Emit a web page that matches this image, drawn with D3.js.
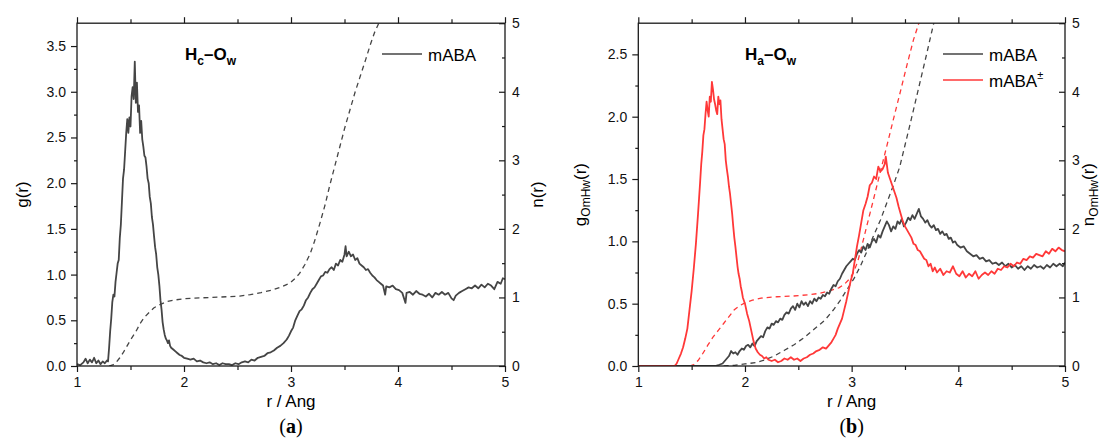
<!DOCTYPE html>
<html>
<head>
<meta charset="utf-8">
<script src="https://cdn.jsdelivr.net/npm/d3@7"></script>
<style>
  body { margin: 0; background: #fff; }
  svg { display: block; }
</style>
</head>
<body>
<svg width="1105" height="440"></svg>
<script>
// tick values
var xTicks = [1, 2, 3, 4, 5];
var xMinor = [1.5, 2.5, 3.5, 4.5];
var nTicks = [0, 1, 2, 3, 4, 5];
var nMinor = [0.5, 1.5, 2.5, 3.5, 4.5];
var gTicksA = [0, 0.5, 1, 1.5, 2, 2.5, 3, 3.5];
var gMinorA = [0.25, 0.75, 1.25, 1.75, 2.25, 2.75, 3.25];
var gTicksB = [0, 0.5, 1, 1.5, 2, 2.5];
var gMinorB = [0.25, 0.75, 1.25, 1.75, 2.25];

// (a) Hc-Ow, mABA : g(r)
var gHcOw = [[1.00,0.02],[1.03,0.01],[1.06,0.04],[1.08,0.08],[1.10,0.03],[1.12,0.07],[1.14,0.04],[1.16,0.09],[1.18,0.03],[1.20,0.06],[1.22,0.02],[1.24,0.05],[1.26,0.03],[1.28,0.06],[1.29,0.05],[1.30,0.20],[1.31,0.38],[1.32,0.52],[1.33,0.70],[1.34,0.78],[1.35,0.76],[1.36,0.92],[1.37,1.02],[1.38,1.12],[1.39,1.16],[1.40,1.40],[1.41,1.55],[1.42,1.80],[1.43,2.05],[1.44,2.15],[1.45,2.35],[1.46,2.55],[1.47,2.70],[1.48,2.55],[1.49,2.72],[1.50,2.62],[1.51,2.95],[1.52,3.05],[1.53,2.92],[1.54,3.33],[1.55,2.88],[1.56,3.10],[1.57,2.78],[1.58,2.85],[1.59,2.55],[1.60,2.68],[1.61,2.48],[1.62,2.40],[1.63,2.30],[1.64,2.28],[1.65,2.18],[1.66,2.05],[1.67,2.00],[1.68,1.85],[1.69,1.78],[1.70,1.63],[1.71,1.55],[1.72,1.42],[1.73,1.30],[1.74,1.22],[1.75,1.08],[1.76,1.00],[1.77,0.88],[1.78,0.72],[1.79,0.62],[1.80,0.48],[1.81,0.40],[1.82,0.34],[1.83,0.30],[1.84,0.28],[1.85,0.25],[1.86,0.28],[1.87,0.22],[1.88,0.20],[1.90,0.18],[1.92,0.16],[1.94,0.14],[1.96,0.12],[1.98,0.11],[2.00,0.09],[2.03,0.08],[2.06,0.07],[2.09,0.08],[2.12,0.05],[2.15,0.06],[2.18,0.04],[2.21,0.03],[2.24,0.04],[2.27,0.02],[2.30,0.03],[2.33,0.01],[2.36,0.03],[2.39,0.02],[2.42,0.02],[2.45,0.01],[2.48,0.03],[2.51,0.02],[2.54,0.04],[2.57,0.05],[2.60,0.04],[2.63,0.07],[2.66,0.06],[2.69,0.09],[2.72,0.10],[2.75,0.11],[2.78,0.14],[2.81,0.15],[2.84,0.17],[2.87,0.20],[2.90,0.22],[2.93,0.25],[2.96,0.29],[2.98,0.33],[3.00,0.38],[3.02,0.42],[3.04,0.50],[3.06,0.55],[3.08,0.60],[3.10,0.62],[3.12,0.66],[3.14,0.72],[3.16,0.75],[3.18,0.80],[3.20,0.84],[3.22,0.86],[3.24,0.90],[3.26,0.94],[3.28,0.98],[3.30,0.99],[3.32,1.03],[3.34,1.02],[3.36,1.06],[3.38,1.08],[3.40,1.05],[3.42,1.12],[3.44,1.10],[3.46,1.16],[3.48,1.14],[3.50,1.22],[3.51,1.31],[3.52,1.20],[3.54,1.25],[3.56,1.20],[3.58,1.22],[3.60,1.16],[3.62,1.18],[3.64,1.12],[3.66,1.10],[3.68,1.08],[3.70,1.05],[3.72,1.06],[3.74,1.02],[3.76,0.99],[3.78,0.97],[3.80,0.94],[3.82,0.92],[3.84,0.90],[3.86,0.88],[3.88,0.78],[3.89,0.87],[3.92,0.86],[3.95,0.88],[3.98,0.84],[4.01,0.83],[4.04,0.80],[4.07,0.69],[4.08,0.80],[4.11,0.81],[4.14,0.78],[4.17,0.82],[4.20,0.79],[4.23,0.78],[4.26,0.76],[4.29,0.79],[4.32,0.75],[4.35,0.80],[4.38,0.78],[4.41,0.81],[4.44,0.78],[4.47,0.80],[4.50,0.74],[4.52,0.72],[4.54,0.77],[4.57,0.80],[4.60,0.82],[4.63,0.84],[4.66,0.86],[4.69,0.85],[4.72,0.88],[4.75,0.85],[4.78,0.89],[4.81,0.86],[4.84,0.90],[4.87,0.88],[4.90,0.84],[4.93,0.92],[4.96,0.90],[4.98,0.96],[5.00,0.95]];
// (a) running coordination number n(r)
var nHcOw = [[1.30,0],[1.34,0.02],[1.37,0.06],[1.40,0.12],[1.43,0.19],[1.46,0.27],[1.50,0.38],[1.55,0.50],[1.59,0.62],[1.63,0.71],[1.68,0.79],[1.72,0.85],[1.78,0.90],[1.84,0.94],[1.90,0.96],[2.00,0.98],[2.10,0.99],[2.25,1.00],[2.40,1.01],[2.52,1.02],[2.62,1.04],[2.72,1.07],[2.83,1.11],[2.92,1.16],[2.99,1.21],[3.04,1.28],[3.08,1.35],[3.13,1.48],[3.18,1.64],[3.22,1.82],[3.27,2.08],[3.32,2.36],[3.36,2.62],[3.41,2.92],[3.46,3.22],[3.50,3.46],[3.55,3.73],[3.60,4.00],[3.65,4.24],[3.70,4.48],[3.74,4.68],[3.78,4.86],[3.82,5.00],[3.86,5.20]];

// (b) Ha-Ow : g(r), mABA and mABA±
var gHaOw = [[1.00,0],[1.72,0],[1.76,0.01],[1.79,0.02],[1.81,0.04],[1.83,0.06],[1.85,0.08],[1.87,0.12],[1.89,0.10],[1.91,0.11],[1.93,0.09],[1.95,0.12],[1.97,0.14],[1.99,0.13],[2.01,0.16],[2.03,0.17],[2.05,0.15],[2.07,0.18],[2.09,0.16],[2.11,0.20],[2.13,0.22],[2.15,0.24],[2.17,0.23],[2.19,0.28],[2.21,0.31],[2.23,0.30],[2.25,0.34],[2.27,0.33],[2.29,0.36],[2.31,0.35],[2.33,0.38],[2.35,0.37],[2.37,0.41],[2.39,0.43],[2.41,0.42],[2.43,0.46],[2.45,0.48],[2.47,0.45],[2.49,0.50],[2.51,0.47],[2.53,0.52],[2.55,0.49],[2.57,0.51],[2.59,0.48],[2.61,0.52],[2.63,0.50],[2.65,0.54],[2.67,0.52],[2.69,0.55],[2.71,0.54],[2.73,0.57],[2.75,0.56],[2.77,0.59],[2.79,0.58],[2.81,0.62],[2.83,0.65],[2.85,0.64],[2.87,0.68],[2.89,0.70],[2.91,0.74],[2.93,0.77],[2.95,0.80],[2.97,0.82],[2.99,0.84],[3.01,0.86],[3.03,0.85],[3.05,0.90],[3.07,0.93],[3.09,0.91],[3.11,0.96],[3.13,0.93],[3.15,0.98],[3.17,0.95],[3.19,1.00],[3.21,1.02],[3.23,0.99],[3.25,1.05],[3.27,1.03],[3.29,1.08],[3.31,1.12],[3.33,1.16],[3.35,1.13],[3.37,1.08],[3.39,1.12],[3.41,1.10],[3.43,1.16],[3.45,1.14],[3.47,1.18],[3.49,1.12],[3.51,1.15],[3.53,1.19],[3.55,1.17],[3.57,1.21],[3.59,1.18],[3.61,1.22],[3.63,1.26],[3.65,1.20],[3.67,1.18],[3.69,1.15],[3.71,1.17],[3.73,1.13],[3.75,1.11],[3.77,1.13],[3.79,1.09],[3.81,1.10],[3.83,1.06],[3.85,1.08],[3.87,1.05],[3.89,1.06],[3.91,1.02],[3.93,1.03],[3.95,0.99],[3.97,1.00],[3.99,0.97],[4.02,0.95],[4.05,0.96],[4.08,0.92],[4.11,0.90],[4.14,0.88],[4.17,0.89],[4.20,0.86],[4.23,0.87],[4.26,0.84],[4.29,0.85],[4.32,0.82],[4.35,0.83],[4.38,0.81],[4.41,0.83],[4.44,0.80],[4.47,0.82],[4.50,0.79],[4.53,0.81],[4.56,0.78],[4.59,0.80],[4.62,0.77],[4.65,0.80],[4.68,0.78],[4.71,0.81],[4.74,0.79],[4.77,0.80],[4.80,0.78],[4.83,0.81],[4.86,0.79],[4.89,0.82],[4.92,0.80],[4.95,0.82],[4.98,0.80],[5.00,0.83]];
var gHaOwPm = [[1.00,0],[1.34,0],[1.36,0.02],[1.38,0.06],[1.40,0.10],[1.42,0.15],[1.44,0.22],[1.46,0.30],[1.48,0.45],[1.50,0.60],[1.52,0.78],[1.54,0.98],[1.56,1.22],[1.57,1.35],[1.58,1.48],[1.59,1.62],[1.60,1.72],[1.61,1.85],[1.62,1.90],[1.63,2.02],[1.64,2.12],[1.65,2.05],[1.66,2.00],[1.67,2.16],[1.68,2.12],[1.69,2.28],[1.70,2.22],[1.71,2.14],[1.72,2.10],[1.73,2.05],[1.74,2.02],[1.75,2.16],[1.76,2.10],[1.77,2.13],[1.78,1.98],[1.79,1.90],[1.80,1.82],[1.81,1.78],[1.82,1.65],[1.83,1.58],[1.84,1.52],[1.85,1.44],[1.86,1.38],[1.87,1.30],[1.88,1.22],[1.89,1.12],[1.90,1.03],[1.91,0.96],[1.92,0.88],[1.93,0.80],[1.94,0.74],[1.95,0.70],[1.96,0.64],[1.97,0.60],[1.98,0.55],[2.00,0.50],[2.02,0.42],[2.04,0.36],[2.06,0.28],[2.08,0.20],[2.10,0.14],[2.12,0.11],[2.14,0.09],[2.16,0.08],[2.18,0.06],[2.20,0.07],[2.22,0.05],[2.25,0.04],[2.28,0.05],[2.31,0.03],[2.34,0.04],[2.37,0.06],[2.40,0.05],[2.43,0.07],[2.46,0.05],[2.49,0.06],[2.52,0.04],[2.55,0.06],[2.58,0.07],[2.61,0.09],[2.64,0.10],[2.67,0.12],[2.70,0.13],[2.73,0.15],[2.76,0.14],[2.79,0.17],[2.81,0.19],[2.83,0.22],[2.85,0.25],[2.87,0.30],[2.89,0.34],[2.91,0.38],[2.93,0.45],[2.95,0.52],[2.97,0.60],[2.99,0.68],[3.01,0.74],[3.03,0.85],[3.05,0.96],[3.07,1.05],[3.09,1.15],[3.11,1.25],[3.13,1.30],[3.15,1.36],[3.17,1.45],[3.19,1.47],[3.21,1.52],[3.23,1.50],[3.25,1.60],[3.27,1.56],[3.29,1.58],[3.31,1.62],[3.32,1.68],[3.34,1.55],[3.36,1.50],[3.38,1.45],[3.40,1.40],[3.42,1.35],[3.44,1.28],[3.46,1.22],[3.48,1.16],[3.50,1.12],[3.52,1.09],[3.54,1.06],[3.56,1.03],[3.58,0.98],[3.60,0.97],[3.62,0.93],[3.64,0.92],[3.66,0.89],[3.68,0.86],[3.70,0.85],[3.72,0.80],[3.74,0.82],[3.76,0.76],[3.78,0.79],[3.80,0.75],[3.83,0.78],[3.86,0.73],[3.89,0.76],[3.92,0.75],[3.95,0.80],[3.98,0.74],[4.01,0.72],[4.04,0.76],[4.07,0.71],[4.10,0.74],[4.13,0.72],[4.16,0.76],[4.19,0.70],[4.22,0.73],[4.25,0.75],[4.28,0.73],[4.31,0.76],[4.34,0.74],[4.37,0.78],[4.40,0.77],[4.43,0.80],[4.46,0.79],[4.49,0.82],[4.52,0.80],[4.55,0.83],[4.58,0.82],[4.61,0.86],[4.64,0.85],[4.67,0.88],[4.70,0.87],[4.73,0.90],[4.76,0.89],[4.79,0.88],[4.82,0.92],[4.85,0.90],[4.88,0.94],[4.91,0.92],[4.94,0.95],[4.97,0.93],[5.00,0.92]];
var nHaOw = [[1.80,0],[1.90,0.01],[2.00,0.03],[2.10,0.05],[2.19,0.09],[2.28,0.15],[2.37,0.23],[2.46,0.31],[2.56,0.42],[2.65,0.54],[2.75,0.67],[2.83,0.82],[2.89,0.95],[2.95,1.10],[3.02,1.27],[3.08,1.45],[3.14,1.66],[3.20,1.88],[3.27,2.13],[3.33,2.38],[3.39,2.63],[3.45,2.90],[3.50,3.22],[3.55,3.54],[3.60,3.87],[3.65,4.20],[3.70,4.53],[3.75,4.87],[3.77,5.00],[3.80,5.20]];
var nHaOwPm = [[1.48,0],[1.52,0.02],[1.56,0.08],[1.60,0.17],[1.65,0.30],[1.70,0.42],[1.75,0.52],[1.80,0.62],[1.85,0.72],[1.90,0.82],[1.95,0.88],[2.00,0.92],[2.07,0.96],[2.15,0.99],[2.30,1.01],[2.45,1.02],[2.60,1.04],[2.70,1.06],[2.80,1.10],[2.88,1.14],[2.93,1.19],[2.98,1.27],[3.02,1.37],[3.06,1.54],[3.10,1.78],[3.14,2.03],[3.20,2.40],[3.27,2.84],[3.33,3.21],[3.39,3.59],[3.45,3.96],[3.52,4.40],[3.58,4.76],[3.63,5.00],[3.66,5.20]];

var FONT = "'Liberation Sans', Arial, sans-serif";
var GREY = "#454545", RED = "#ff3838", AXIS = "#1a1a1a";
var yTop = 23.2, yBot = 366;

var svg = d3.select("svg");

function panel(o) {
  var g = svg.append("g");
  var x = d3.scaleLinear().domain([1, 5]).range([o.left, o.right]);
  var y = d3.scaleLinear().domain([0, o.gMax]).range([yBot, yTop]);
  var yn = d3.scaleLinear().domain([0, 5]).range([yBot, yTop]);

  g.append("clipPath").attr("id", "clip" + o.id)
    .append("rect").attr("x", o.left).attr("y", yTop)
    .attr("width", o.right - o.left).attr("height", yBot - yTop);

  var plot = g.append("g").attr("clip-path", "url(#clip" + o.id + ")");
  var lineG = d3.line().x(function (d) { return x(d[0]); }).y(function (d) { return y(d[1]); });
  var lineN = d3.line().x(function (d) { return x(d[0]); }).y(function (d) { return yn(d[1]); });

  o.dashed.forEach(function (s) {
    plot.append("path").attr("d", lineN(s.data))
      .attr("fill", "none").attr("stroke", s.color)
      .attr("stroke-width", 1.3).attr("stroke-dasharray", "5,4");
  });
  o.solid.forEach(function (s) {
    plot.append("path").attr("d", lineG(s.data))
      .attr("fill", "none").attr("stroke", s.color)
      .attr("stroke-width", 1.8).attr("stroke-linejoin", "round");
  });

  // axes
  function style(sel) {
    sel.attr("font-family", FONT).attr("font-size", 14);
    sel.select(".domain").remove();
    sel.selectAll("line").attr("stroke", AXIS).attr("stroke-width", 1.2);
    sel.selectAll("text").attr("fill", "#111");
  }
  g.append("g").attr("transform", "translate(0," + yBot + ")")
    .call(d3.axisBottom(x).tickValues(xTicks).tickSize(6).tickPadding(5).tickFormat(d3.format("d"))).call(style);
  g.append("g").attr("transform", "translate(0," + yBot + ")")
    .call(d3.axisBottom(x).tickValues(xMinor).tickSize(4).tickFormat("")).call(style);
  g.append("g").attr("transform", "translate(0," + yTop + ")")
    .call(d3.axisTop(x).tickValues(xTicks).tickSize(6).tickFormat("")).call(style);
  g.append("g").attr("transform", "translate(0," + yTop + ")")
    .call(d3.axisTop(x).tickValues(xMinor).tickSize(4).tickFormat("")).call(style);
  g.append("g").attr("transform", "translate(" + o.left + ",0)")
    .call(d3.axisLeft(y).tickValues(o.gTicks).tickSize(6).tickPadding(5).tickFormat(d3.format(".1f"))).call(style);
  g.append("g").attr("transform", "translate(" + o.left + ",0)")
    .call(d3.axisLeft(y).tickValues(o.gMinor).tickSize(3).tickFormat("")).call(style);
  g.append("g").attr("transform", "translate(" + o.right + ",0)")
    .call(d3.axisRight(yn).tickValues(nTicks).tickSize(-6).tickPadding(7).tickFormat(d3.format("d"))).call(style);
  g.append("g").attr("transform", "translate(" + o.right + ",0)")
    .call(d3.axisRight(yn).tickValues(nMinor).tickSize(-3).tickFormat("")).call(style);

  g.append("rect").attr("x", o.left).attr("y", yTop)
    .attr("width", o.right - o.left).attr("height", yBot - yTop)
    .attr("fill", "none").attr("stroke", AXIS).attr("stroke-width", 1.3);

  // axis titles
  var cx = (o.left + o.right) / 2, cy = (yTop + yBot) / 2;
  g.append("text").attr("x", cx).attr("y", 407).attr("text-anchor", "middle")
    .attr("font-family", FONT).attr("font-size", 17).text("r / Ang");

  function ylab(xp, letter, sub) {
    var t = g.append("text").attr("transform", "translate(" + xp + "," + cy + ") rotate(-90)")
      .attr("text-anchor", "middle").attr("font-family", FONT).attr("font-size", 17);
    t.append("tspan").text(letter);
    if (sub) {
      t.append("tspan").attr("font-size", 12).attr("dy", 4).text(sub);
      t.append("tspan").attr("dy", -4).text("(r)");
    } else {
      t.append("tspan").text("(r)");
    }
  }
  ylab(o.left - o.yLabL, "g", o.sub);
  ylab(o.right + o.yLabR, "n", o.sub);

  // panel title
  var ti = g.append("text").attr("x", o.titleX).attr("y", 60)
    .attr("font-family", FONT).attr("font-weight", "bold").attr("font-size", 17);
  ti.append("tspan").text("H");
  ti.append("tspan").attr("font-size", 12).attr("dy", 5).text(o.hSub);
  ti.append("tspan").attr("dy", -5).text("\u2013O");
  ti.append("tspan").attr("font-size", 12).attr("dy", 5).text("w");

  // legend
  o.legend.forEach(function (l, i) {
    var ly = 54 + i * 26;
    g.append("line").attr("x1", o.legX).attr("x2", o.legX + 40)
      .attr("y1", ly).attr("y2", ly).attr("stroke", l.color).attr("stroke-width", 1.6);
    var t = g.append("text").attr("x", o.legX + 46).attr("y", ly + 6.5)
      .attr("font-family", FONT).attr("font-size", 17).text(l.label);
    if (l.sup) t.append("tspan").attr("font-size", 11).attr("dy", -8).text(l.sup);
  });

  // caption
  var c = g.append("text").attr("x", cx).attr("y", 433).attr("text-anchor", "middle")
    .attr("font-family", "'Liberation Serif', 'Times New Roman', serif").attr("font-size", 20);
  c.append("tspan").text("(");
  c.append("tspan").attr("font-weight", "bold").text(o.caption);
  c.append("tspan").text(")");
}

panel({
  id: "a", left: 77, right: 505, gMax: 3.75, gTicks: gTicksA, gMinor: gMinorA,
  sub: null, hSub: "c", titleX: 185, legX: 382, caption: "a", yLabL: 49, yLabR: 38,
  dashed: [{ data: nHcOw, color: GREY }],
  solid: [{ data: gHcOw, color: GREY }],
  legend: [{ label: "mABA", color: GREY }]
});

panel({
  id: "b", left: 638.3, right: 1065, gMax: 2.75, gTicks: gTicksB, gMinor: gMinorB,
  sub: "OmHw", hSub: "a", titleX: 745, legX: 943, caption: "b", yLabL: 52, yLabR: 29,
  dashed: [{ data: nHaOw, color: GREY }, { data: nHaOwPm, color: RED }],
  solid: [{ data: gHaOw, color: GREY }, { data: gHaOwPm, color: RED }],
  legend: [{ label: "mABA", color: GREY }, { label: "mABA", sup: "\u00b1", color: RED }]
});
</script>
</body>
</html>
